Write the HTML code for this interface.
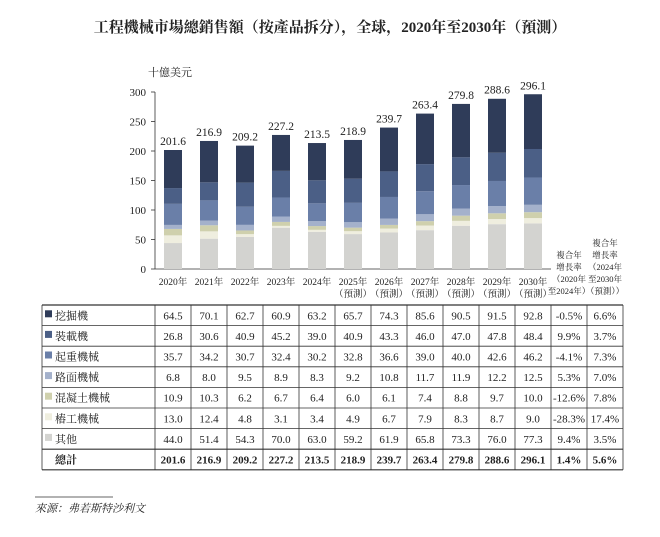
<!DOCTYPE html>
<html><head><meta charset="utf-8">
<style>
body{margin:0;background:#fff;}
svg{display:block;font-family:"Liberation Serif","Noto Serif CJK SC","Noto Sans CJK TC",serif;}
</style></head>
<body>
<svg id="c" width="660" height="537" viewBox="0 0 660 537">
<text x="330" y="32" text-anchor="middle" font-size="15" font-weight="bold" fill="#222">工程機械市場總銷售額（按產品拆分），全球，2020年至2030年（預測）</text>
<text x="148" y="76" font-size="11" fill="#222">十億美元</text>
<g id="axes"></g><g id="bars"></g><g id="table"></g>
<line x1="35" y1="497" x2="113" y2="497" stroke="#333" stroke-width="0.8"/>
<text x="35" y="512" font-size="11" font-style="italic" fill="#222">來源：弗若斯特沙利文</text>
</svg>
<script>
const years=["2020年","2021年","2022年","2023年","2024年","2025年","2026年","2027年","2028年","2029年","2030年"];
const forecast=[false,false,false,false,false,true,true,true,true,true,true];
const seriesNames=["挖掘機","裝載機","起重機械","路面機械","混凝土機械","樁工機械","其他"];
const excavator=[64.5,70.1,62.7,60.9,63.2,65.7,74.3,85.6,90.5,91.5,92.8];
const loader=[26.8,30.6,40.9,45.2,39.0,40.9,43.3,46.0,47.0,47.8,48.4];
const crane=[35.7,34.2,30.7,32.4,30.2,32.8,36.6,39.0,40.0,42.6,46.2];
const road=[6.8,8.0,9.5,8.9,8.3,9.2,10.8,11.7,11.9,12.2,12.5];
const concrete=[10.9,10.3,6.2,6.7,6.4,6.0,6.1,7.4,8.8,9.7,10.0];
const piling=[13.0,12.4,4.8,3.1,3.4,4.9,6.7,7.9,8.3,8.7,9.0];
const other=[44.0,51.4,54.3,70.0,63.0,59.2,61.9,65.8,73.3,76.0,77.3];
const totals=[201.6,216.9,209.2,227.2,213.5,218.9,239.7,263.4,279.8,288.6,296.1];
const cagr1=["-0.5%","9.9%","-4.1%","5.3%","-12.6%","-28.3%","9.4%","1.4%"];
const cagr2=["6.6%","3.7%","7.3%","7.0%","7.8%","17.4%","3.5%","5.6%"];
const yTicks=[0,50,100,150,200,250,300];
const colors=["#2f3c59","#4b5f86","#6a7fa8","#a4b1cb","#cfd0ad","#efeedf","#d3d3d0"];
const NS="http://www.w3.org/2000/svg";
function el(t,a,p,txt){const e=document.createElementNS(NS,t);for(const k in a)e.setAttribute(k,a[k]);if(txt!==undefined)e.textContent=txt;p.appendChild(e);return e;}
const x0=155,colW=36,y0=269,yMax=300,yH=177;
const ys=v=>y0-v/yMax*yH;
const xc=i=>x0+colW*i+colW/2;
const axes=document.getElementById('axes'),bars=document.getElementById('bars'),tbl=document.getElementById('table');
let a=el('line',{x1:x0,y1:ys(300),x2:x0,y2:y0,stroke:'#333','stroke-width':0.8},axes);

a=el('line',{x1:x0,y1:y0,x2:x0+colW*11,y2:y0,stroke:'#333','stroke-width':0.8},axes);

yTicks.forEach(v=>{
  let t=el('line',{x1:x0-4,y1:ys(v),x2:x0,y2:ys(v),stroke:'#333','stroke-width':0.8},axes);
  
  let l=el('text',{x:x0-9,y:ys(v)+4,'text-anchor':'end','font-size':11,fill:'#222'},axes,String(v));
  
});
const series=[other,piling,concrete,road,crane,loader,excavator];
const scol=[colors[6],colors[5],colors[4],colors[3],colors[2],colors[1],colors[0]];
years.forEach((y,i)=>{
  let acc=0;
  series.forEach((s,k)=>{
    const r=el('rect',{x:xc(i)-9,y:ys(acc+s[i]),width:18,height:ys(acc)-ys(acc+s[i]),fill:scol[k]},bars);
    
    acc+=s[i];
  });
  let t=el('text',{x:xc(i),y:ys(totals[i])-5,'text-anchor':'middle','font-size':11.5,fill:'#222'},bars,totals[i].toFixed(1));
  
  t=el('text',{x:xc(i),y:285,'text-anchor':'middle','font-size':9.5,fill:'#222'},bars,y);
  
  if(forecast[i]){t=el('text',{x:xc(i),y:297,'text-anchor':'middle','font-size':9.5,fill:'#222'},bars,'（預測）');
  }
});
const h1=["複合年","增長率","（2020年","至2024年）"],h2=["複合年","增長率","（2024年","至2030年","（預測））"];
h1.forEach((s,j)=>{let t=el('text',{x:xc(11),y:258+j*12,'text-anchor':'middle','font-size':8.5,fill:'#222'},bars,s);});
h2.forEach((s,j)=>{let t=el('text',{x:xc(12),y:246+j*12,'text-anchor':'middle','font-size':8.5,fill:'#222'},bars,s);});
const tTop=305,rH=20.6,tL=42,tR=x0+colW*13;
const rows=[excavator,loader,crane,road,concrete,piling,other,totals];
const labels=seriesNames.concat(["總計"]);
for(let r=0;r<=8;r++){let l=el('line',{x1:tL,y1:tTop+r*rH,x2:tR,y2:tTop+r*rH,stroke:'#333','stroke-width':(r==7||r==8||r==0)?1.2:0.8},tbl);}
[tL].concat(Array.from({length:14},(_,k)=>x0+colW*k)).forEach(x=>{let l=el('line',{x1:x,y1:tTop,x2:x,y2:tTop+8*rH,stroke:'#333','stroke-width':0.8},tbl);});
rows.forEach((row,r)=>{
  const cy=tTop+r*rH+rH/2+4,b=r==7;
  if(!b){let s=el('rect',{x:45,y:cy-9,width:7,height:7,fill:colors[r]},tbl);}
  let t=el('text',{x:55,y:cy,'font-size':11,fill:'#222','font-weight':b?'bold':'normal'},tbl,labels[r]);
  
  row.forEach((v,i)=>{let c=el('text',{x:xc(i),y:cy,'text-anchor':'middle','font-size':11,fill:'#222','font-weight':b?'bold':'normal'},tbl,v.toFixed(1));});
  let c=el('text',{x:xc(11),y:cy,'text-anchor':'middle','font-size':11,fill:'#222','font-weight':b?'bold':'normal'},tbl,cagr1[r]);
  c=el('text',{x:xc(12),y:cy,'text-anchor':'middle','font-size':11,fill:'#222','font-weight':b?'bold':'normal'},tbl,cagr2[r]);
});
</script>
</body></html>
